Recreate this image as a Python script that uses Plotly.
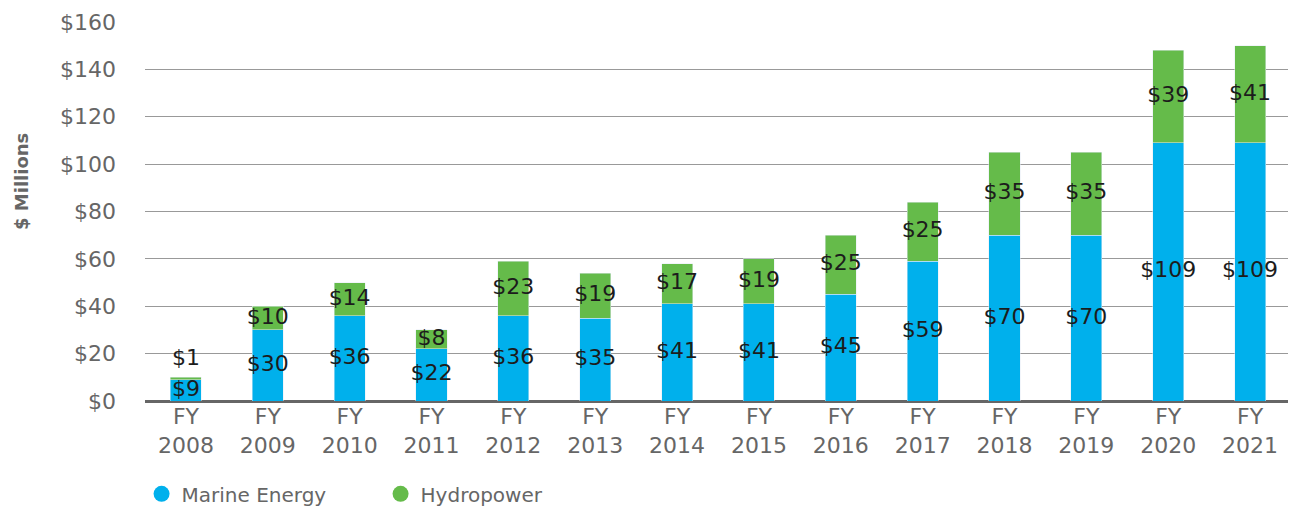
import plotly.graph_objects as go

years = ["2008", "2009", "2010", "2011", "2012", "2013", "2014",
         "2015", "2016", "2017", "2018", "2019", "2020", "2021"]
categories = ["FY<br>" + y for y in years]
marine = [9, 30, 36, 22, 36, 35, 41, 41, 45, 59, 70, 70, 109, 109]
hydro = [1, 10, 14, 8, 23, 19, 17, 19, 25, 25, 35, 35, 39, 41]
y_ticks = [0, 20, 40, 60, 80, 100, 120, 140, 160]

BLUE = "#00B0EC"
GREEN = "#65BB4A"
FONT = "DejaVu Sans, Verdana, sans-serif"
LABEL_FONT = dict(family=FONT, size=22, color="#1c1c1c")

fig = go.Figure()
fig.add_trace(go.Bar(x=categories, y=marine, marker_color=BLUE, showlegend=False,
                     hoverinfo="skip"))
fig.add_trace(go.Bar(x=categories, y=hydro, marker_color=GREEN, showlegend=False,
                     hoverinfo="skip"))

# data labels
marine_mid = [m / 2 for m in marine]
hydro_pos = []
hydro_tp = []
for m, h in zip(marine, hydro):
    if h < 5:
        hydro_pos.append(m + h + 3)
        hydro_tp.append("top center")
    else:
        hydro_pos.append(m + h / 2)
        hydro_tp.append("middle center")

fig.add_trace(go.Scatter(x=categories, y=marine_mid, mode="text",
                         text=[f"${v}" for v in marine], textposition="middle center",
                         textfont=LABEL_FONT, showlegend=False, hoverinfo="skip"))
fig.add_trace(go.Scatter(x=categories, y=hydro_pos, mode="text",
                         text=[f"${v}" for v in hydro], textposition=hydro_tp,
                         textfont=LABEL_FONT, showlegend=False, hoverinfo="skip"))

# legend entries with circle symbols
fig.add_trace(go.Scatter(x=[None], y=[None], mode="markers", name="Marine Energy",
                         marker=dict(color=BLUE, size=20, symbol="circle")))
fig.add_trace(go.Scatter(x=[None], y=[None], mode="markers", name="Hydropower",
                         marker=dict(color=GREEN, size=20, symbol="circle")))

fig.update_layout(
    barmode="stack",
    bargap=0.62,
    width=1296, height=506,
    margin=dict(l=137, r=13, t=14, b=113, autoexpand=False),
    plot_bgcolor="white", paper_bgcolor="white",
    font=dict(family=FONT, size=20, color="#666666"),
    legend=dict(orientation="h", x=-0.003, xanchor="left", y=-0.245, yanchor="middle",
                traceorder="normal",
                font=dict(family=FONT, size=20, color="#666666"), entrywidth=194),
    xaxis=dict(tickfont=dict(family=FONT, size=22, color="#666666"), showgrid=False,
               ticks="", showline=False, range=[-0.5, len(categories) - 0.5]),
    yaxis=dict(range=[0, 160], tickvals=y_ticks,
               ticktext=[f"${v}" for v in y_ticks],
               tickfont=dict(family=FONT, size=22, color="#666666"),
               showgrid=True, gridcolor="#999999", gridwidth=1,
               zeroline=True, zerolinecolor="#666666", zerolinewidth=2.5,
               ticks="", ticklabelstandoff=28),
    annotations=[dict(text="<b>$ Millions</b>", textangle=-90, showarrow=False,
                      xref="paper", yref="paper", x=-0.1073, y=0.578,
                      xanchor="center", yanchor="middle",
                      font=dict(family=FONT, size=18, color="#666666"))],
)

fig.write_html("out.html")
